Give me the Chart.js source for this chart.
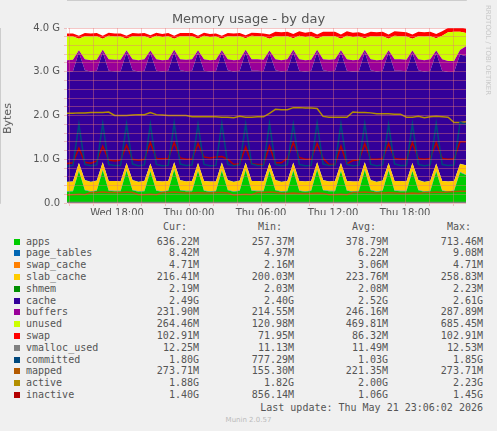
<!DOCTYPE html>
<html><head><meta charset="utf-8">
<script src="https://cdn.jsdelivr.net/npm/chart.js@4"></script>
<style>
body{margin:0;background:#f0f0f0;width:497px;height:431px;overflow:hidden;font-family:"DejaVu Sans Mono",monospace;}
#wrap{position:absolute;left:0;top:0;width:497px;height:215px;}
#title{position:absolute;top:11px;left:0;width:497px;text-align:center;font:13px "DejaVu Sans",sans-serif;color:#555;}
#ylab{position:absolute;left:-8px;top:112px;transform:rotate(-90deg);font:11px "DejaVu Sans",sans-serif;color:#555;}
#rrd{position:absolute;transform:rotate(90deg);transform-origin:left top;left:492px;top:5px;font:7px "DejaVu Sans",sans-serif;color:#c8c8c8;white-space:nowrap;}
.row{position:absolute;font-size:10px;color:#555;white-space:pre;height:12px;line-height:12px;}
.sw{position:absolute;width:6px;height:6px;left:14px;}
.c{position:absolute;text-align:right;}
</style></head><body>
<div id="wrap"><canvas id="c" width="497" height="215"></canvas></div>
<div id="title">Memory usage - by day</div>
<div id="ylab">Bytes</div>
<div id="rrd">RRDTOOL / TOBI OETIKER</div>
<div id="legend"></div>
<div class="row" style="top:402px;right:14px;">Last update: Thu May 21 23:06:02 2026</div>
<div class="row" style="top:416px;left:0;width:497px;text-align:center;font:7px 'DejaVu Sans';color:#bbb;">Munin 2.0.57</div>
<script>
const apps=[0.26,0.27,0.73,0.29,0.26,0.28,0.75,0.28,0.27,0.27,0.74,0.29,0.26,0.27,0.72,0.28,0.26,0.28,0.76,0.29,0.27,0.27,0.73,0.28,0.26,0.27,0.74,0.29,0.26,0.28,0.75,0.28,0.27,0.27,0.73,0.29,0.26,0.27,0.74,0.28,0.26,0.28,0.76,0.29,0.27,0.27,0.73,0.28,0.26,0.27,0.75,0.29,0.26,0.28,0.74,0.28,0.27,0.27,0.73,0.29,0.26,0.27,0.72,0.28,0.26,0.28,0.70,0.64];
const pageTables=[0.008,0.008,0.009,0.008,0.008,0.008,0.009,0.008,0.008,0.008,0.009,0.008,0.008,0.008,0.009,0.008,0.008,0.008,0.009,0.008,0.008,0.008,0.009,0.008,0.008,0.008,0.009,0.008,0.008,0.008,0.009,0.008,0.008,0.008,0.009,0.008,0.008,0.008,0.009,0.008,0.008,0.008,0.009,0.008,0.008,0.008,0.009,0.008,0.008,0.008,0.009,0.008,0.008,0.008,0.009,0.008,0.008,0.008,0.009,0.008,0.008,0.008,0.009,0.008,0.008,0.008,0.009,0.008];
const swapCache=[0.003,0.003,0.003,0.003,0.003,0.003,0.003,0.003,0.003,0.003,0.003,0.003,0.003,0.003,0.003,0.003,0.003,0.003,0.003,0.003,0.003,0.003,0.003,0.003,0.003,0.003,0.003,0.003,0.003,0.003,0.003,0.003,0.003,0.003,0.003,0.003,0.003,0.003,0.003,0.003,0.003,0.003,0.003,0.003,0.003,0.003,0.003,0.003,0.003,0.003,0.003,0.003,0.003,0.003,0.003,0.003,0.003,0.003,0.003,0.003,0.003,0.003,0.003,0.003,0.003,0.003,0.004,0.005];
const slabCache=[0.21,0.21,0.17,0.22,0.21,0.22,0.17,0.21,0.22,0.21,0.16,0.22,0.21,0.22,0.17,0.21,0.22,0.21,0.16,0.22,0.21,0.22,0.17,0.21,0.22,0.21,0.17,0.22,0.21,0.22,0.16,0.21,0.22,0.21,0.17,0.22,0.21,0.22,0.17,0.21,0.22,0.21,0.16,0.22,0.21,0.22,0.17,0.21,0.22,0.21,0.17,0.22,0.21,0.22,0.16,0.21,0.22,0.21,0.17,0.22,0.21,0.22,0.17,0.21,0.22,0.21,0.18,0.21];
const shmem=[0.002,0.002,0.002,0.002,0.002,0.002,0.002,0.002,0.002,0.002,0.002,0.002,0.002,0.002,0.002,0.002,0.002,0.002,0.002,0.002,0.002,0.002,0.002,0.002,0.002,0.002,0.002,0.002,0.002,0.002,0.002,0.002,0.002,0.002,0.002,0.002,0.002,0.002,0.002,0.002,0.002,0.002,0.002,0.002,0.002,0.002,0.002,0.002,0.002,0.002,0.002,0.002,0.002,0.002,0.002,0.002,0.002,0.002,0.002,0.002,0.002,0.002,0.002,0.002,0.002,0.002,0.002,0.002];
const cache=[2.52,2.52,2.53,2.51,2.52,2.51,2.52,2.52,2.51,2.52,2.53,2.51,2.52,2.52,2.53,2.52,2.51,2.52,2.52,2.51,2.52,2.52,2.53,2.52,2.51,2.52,2.52,2.51,2.52,2.51,2.53,2.52,2.52,2.52,2.52,2.51,2.52,2.52,2.53,2.52,2.51,2.52,2.52,2.51,2.52,2.52,2.53,2.52,2.51,2.52,2.52,2.51,2.52,2.51,2.53,2.52,2.52,2.52,2.52,2.51,2.52,2.52,2.53,2.52,2.50,2.49,2.50,2.49];
const buffers=[0.26,0.26,0.05,0.25,0.26,0.25,0.05,0.26,0.26,0.26,0.05,0.25,0.26,0.26,0.05,0.26,0.26,0.25,0.05,0.25,0.26,0.26,0.05,0.26,0.26,0.26,0.05,0.25,0.26,0.25,0.05,0.26,0.26,0.26,0.05,0.25,0.26,0.26,0.05,0.26,0.26,0.25,0.05,0.25,0.26,0.26,0.05,0.26,0.26,0.26,0.05,0.25,0.26,0.25,0.05,0.26,0.26,0.26,0.05,0.25,0.26,0.26,0.05,0.26,0.25,0.25,0.10,0.23];
const unused=[0.54,0.53,0.26,0.53,0.54,0.54,0.25,0.54,0.53,0.53,0.26,0.53,0.54,0.53,0.28,0.54,0.53,0.54,0.25,0.53,0.54,0.53,0.26,0.54,0.53,0.53,0.26,0.53,0.54,0.54,0.26,0.54,0.53,0.53,0.27,0.53,0.54,0.53,0.26,0.54,0.53,0.54,0.25,0.53,0.54,0.53,0.26,0.54,0.53,0.53,0.26,0.53,0.54,0.54,0.26,0.54,0.53,0.53,0.27,0.53,0.54,0.53,0.28,0.54,0.66,0.67,0.42,0.30];
const swap=[0.07,0.07,0.07,0.07,0.07,0.07,0.07,0.07,0.07,0.07,0.07,0.07,0.07,0.07,0.07,0.07,0.07,0.07,0.07,0.07,0.07,0.07,0.07,0.07,0.07,0.07,0.07,0.07,0.07,0.07,0.07,0.07,0.07,0.07,0.10,0.10,0.10,0.10,0.10,0.10,0.10,0.10,0.10,0.10,0.10,0.10,0.10,0.10,0.10,0.10,0.10,0.10,0.10,0.10,0.10,0.10,0.10,0.10,0.10,0.10,0.10,0.10,0.10,0.10,0.10,0.10,0.10,0.10];
const vmallocUsed=[0.012,0.012,0.012,0.012,0.012,0.012,0.012,0.012,0.012,0.012,0.012,0.012,0.012,0.012,0.012,0.012,0.012,0.012,0.012,0.012,0.012,0.012,0.012,0.012,0.012,0.012,0.012,0.012,0.012,0.012,0.012,0.012,0.012,0.012,0.012,0.012,0.012,0.012,0.012,0.012,0.012,0.012,0.012,0.012,0.012,0.012,0.012,0.012,0.012,0.012,0.012,0.012,0.012,0.012,0.012,0.012,0.012,0.012,0.012,0.012,0.012,0.012,0.012,0.012,0.012,0.012,0.012,0.012];
const committed=[0.84,0.86,1.80,0.88,0.85,0.87,1.82,0.88,0.86,0.86,1.81,0.89,0.85,0.87,1.80,0.88,0.85,0.86,1.83,0.89,0.86,0.87,1.80,0.88,0.85,0.86,1.82,0.88,0.85,0.87,1.81,0.89,0.86,0.86,1.82,0.88,0.85,0.87,1.80,0.88,0.85,0.86,1.83,0.89,0.86,0.87,1.81,0.88,0.85,0.86,1.82,0.88,0.85,0.87,1.80,0.89,0.86,0.86,1.81,0.88,0.85,0.87,1.82,0.88,0.86,0.87,1.84,1.80];
const mapped=[0.18,0.19,0.20,0.19,0.24,0.24,0.25,0.24,0.24,0.24,0.25,0.24,0.19,0.19,0.20,0.19,0.24,0.24,0.25,0.24,0.23,0.23,0.24,0.23,0.23,0.24,0.24,0.23,0.18,0.19,0.20,0.19,0.24,0.24,0.25,0.24,0.22,0.22,0.23,0.22,0.22,0.22,0.23,0.22,0.19,0.19,0.20,0.19,0.24,0.24,0.25,0.24,0.23,0.23,0.24,0.23,0.22,0.22,0.23,0.22,0.24,0.24,0.25,0.24,0.25,0.26,0.27,0.27];
const active=[2.05,2.05,2.06,2.06,2.07,2.07,2.07,2.08,2.00,2.00,2.00,2.01,2.02,2.02,2.07,2.02,2.01,2.00,2.00,2.00,2.00,1.97,1.97,1.97,1.97,1.97,1.96,1.96,1.95,1.98,1.96,1.96,1.97,1.97,2.05,2.14,2.13,2.13,2.18,2.18,2.17,2.17,2.16,1.98,1.96,1.96,1.96,1.96,2.08,2.07,2.07,2.06,2.04,2.04,2.04,2.03,2.03,1.96,1.96,1.98,1.95,1.97,1.98,1.97,1.96,1.84,1.84,1.86];
const inactive=[0.90,0.92,1.25,0.93,0.91,0.96,1.30,0.98,0.96,0.98,1.32,1.00,0.98,1.00,1.38,1.02,1.01,1.02,1.38,1.03,1.00,1.00,1.36,1.05,1.03,1.05,1.06,1.00,0.88,0.90,1.28,0.90,0.88,0.88,1.30,0.92,0.92,1.02,1.38,1.04,1.00,1.00,1.36,1.02,0.88,0.88,1.30,0.90,0.97,0.98,1.35,1.00,1.00,1.01,1.36,1.02,1.00,1.00,1.38,1.02,1.00,1.02,1.38,1.02,1.00,1.01,1.40,1.40];
const xTickLabels=["Wed 18:00","Thu 00:00","Thu 06:00","Thu 12:00","Thu 18:00"];
const yTickLabels=["0.0","1.0 G","2.0 G","3.0 G","4.0 G"];

const span=33.25, step=span/(apps.length-1);
const pts=a=>a.map((v,i)=>({x:i*step,y:v}));
const areas=[["apps",apps,"#00CC00"],["page_tables",pageTables,"#0066B3"],["swap_cache",swapCache,"#FF8000"],["slab_cache",slabCache,"#FFCC00"],["shmem",shmem,"#008F00"],["cache",cache,"#330099"],["buffers",buffers,"#990099"],["unused",unused,"#CCFF00"],["swap",swap,"#FF0000"]];
const lines=[["vmalloc_used",vmallocUsed,"#808080"],["committed",committed,"#00487D"],["mapped",mapped,"#B35A00"],["active",active,"#B38F00"],["inactive",inactive,"#B30000"]];
const ds=[];
areas.forEach((a,i)=>ds.push({label:a[0],data:pts(a[1]),backgroundColor:a[2],borderWidth:0,fill:i===0?'origin':'-1',pointRadius:0,tension:0,yAxisID:'y',stack:'s',order:2}));
lines.forEach(a=>ds.push({label:a[0],data:pts(a[1]),borderColor:a[2],borderWidth:1.5,fill:false,pointRadius:0,tension:0,yAxisID:'y2',order:1}));
const majors=[4.17,10.17,16.17,22.17,28.17];
new Chart(document.getElementById('c'),{type:'line',data:{datasets:ds},options:{
 responsive:false,animation:false,layout:{padding:{left:0,right:31,top:28,bottom:0}},
 plugins:{legend:{display:false},tooltip:{enabled:false}},
 scales:{
  x:{type:'linear',min:0,max:span,
     afterBuildTicks:s=>{const t=[];for(let v=0.17;v<span;v+=2)t.push({value:v});s.ticks=t;},
     ticks:{autoSkip:false,maxRotation:0,color:'#555',font:{family:'DejaVu Sans',size:10},padding:1,
       callback:v=>{const k=majors.findIndex(m=>Math.abs(m-v)<0.01);return k>=0?xTickLabels[k]:'';}},
     grid:{color:'rgba(230,120,120,0.7)',lineWidth:0.6,tickLength:3,z:1},border:{color:'#aaa'},
     afterFit:s=>{s.height=12;}},
  y:{stacked:true,min:0,max:4,
     afterBuildTicks:s=>{const t=[];for(let v=0;v<=4.001;v+=0.2)t.push({value:+v.toFixed(1)});s.ticks=t;},
     ticks:{autoSkip:false,color:'#555',font:{family:'DejaVu Sans',size:10},padding:4,
       callback:v=>{const r=Math.round(v);return Math.abs(v-r)<0.01?yTickLabels[r]:'';}},
     grid:{color:'rgba(230,120,120,0.7)',lineWidth:0.6,tickLength:3,z:1},border:{color:'#aaa'},
     afterFit:s=>{s.width=67;}},
  y2:{display:false,min:0,max:4,stacked:false}
 }},
 plugins:[{id:'bg',beforeDraw:c=>{const a=c.chartArea,x=c.ctx;x.save();x.fillStyle='#fff';x.fillRect(a.left,a.top,a.right-a.left,a.bottom-a.top);x.restore();}}]
});

const rows=[["apps","#00CC00","636.22M","257.37M","378.79M","713.46M"],["page_tables","#0066B3","8.42M","4.97M","6.22M","9.08M"],["swap_cache","#FF8000","4.71M","2.16M","3.06M","4.71M"],["slab_cache","#FFCC00","216.41M","200.03M","223.76M","258.83M"],["shmem","#008F00","2.19M","2.03M","2.08M","2.23M"],["cache","#330099","2.49G","2.40G","2.52G","2.61G"],["buffers","#990099","231.90M","214.55M","246.16M","287.89M"],["unused","#CCFF00","264.46M","120.98M","469.81M","685.45M"],["swap","#FF0000","102.91M","71.95M","86.32M","102.91M"],["vmalloc_used","#808080","12.25M","11.13M","11.49M","12.53M"],["committed","#00487D","1.80G","777.29M","1.03G","1.85G"],["mapped","#B35A00","273.71M","155.30M","221.35M","273.71M"],["active","#B38F00","1.88G","1.82G","2.00G","2.23G"],["inactive","#B30000","1.40G","856.14M","1.06G","1.45G"]];
const L=document.getElementById('legend');
const cols=[199,294,388,483];
let h='';
["Cur:","Min:","Avg:","Max:"].forEach((t,i)=>h+=`<div class="row c" style="top:221px;right:${497-cols[i]+12}px">${t}</div>`);
rows.forEach((r,j)=>{const top=235.6+j*11.8;
 h+=`<div class="sw" style="top:${top+3}px;background:${r[1]}"></div><div class="row" style="top:${top}px;left:26px">${r[0]}</div>`;
 for(let i=0;i<4;i++)h+=`<div class="row c" style="top:${top}px;right:${497-cols[i]}px">${r[i+2]}</div>`;});
L.innerHTML=h;
</script></body></html>
